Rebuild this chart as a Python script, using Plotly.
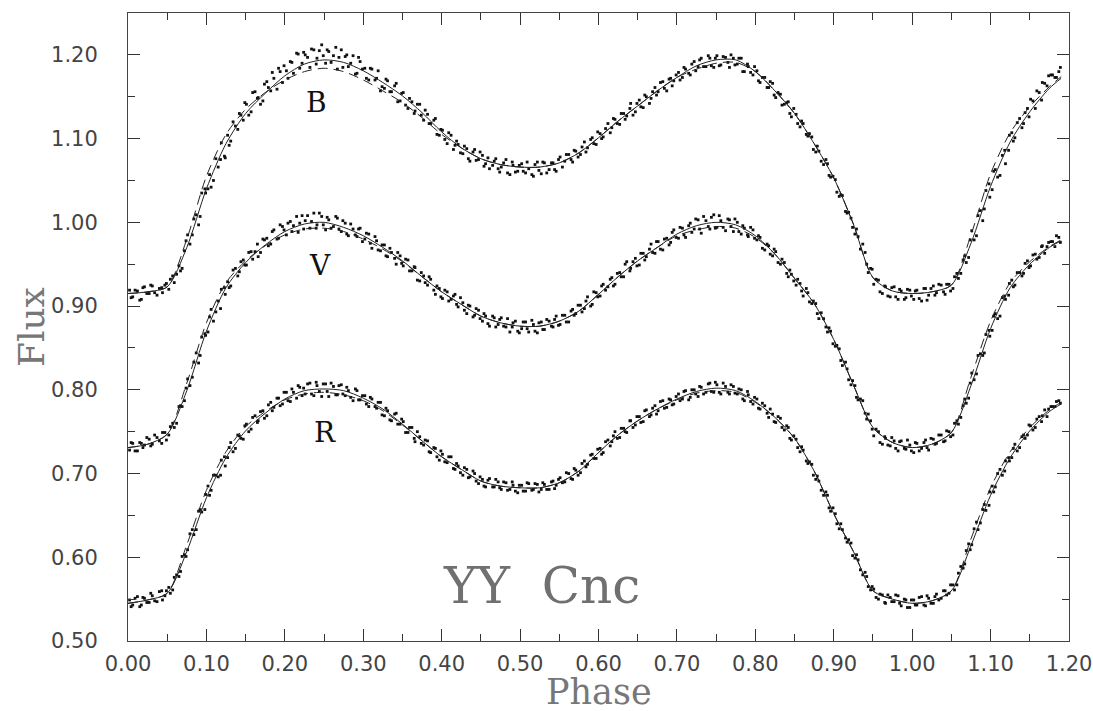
import plotly.graph_objects as go

# ---------------- data ----------------
CURVE_PHASE = [0.000, 0.025, 0.050, 0.075, 0.100, 0.125, 0.150, 0.175, 0.200, 0.225,
               0.250, 0.275, 0.300, 0.325, 0.350, 0.375, 0.400, 0.425, 0.450, 0.475,
               0.500, 0.525, 0.550, 0.575, 0.600, 0.625, 0.650, 0.675, 0.700, 0.725,
               0.750, 0.775, 0.800, 0.825, 0.850, 0.875, 0.900, 0.925, 0.950, 0.975,
               1.000, 1.025, 1.050, 1.075, 1.100, 1.125, 1.150, 1.175, 1.190]

B_FIT = [0.915, 0.917, 0.923, 0.970, 1.040, 1.094, 1.130, 1.154, 1.175, 1.189,
         1.194, 1.191, 1.181, 1.167, 1.151, 1.131, 1.108, 1.089, 1.076, 1.069,
         1.066, 1.066, 1.071, 1.083, 1.101, 1.121, 1.139, 1.157, 1.173, 1.187,
         1.194, 1.194, 1.180, 1.157, 1.130, 1.094, 1.053, 0.998, 0.934, 0.918,
         0.915, 0.917, 0.925, 0.975, 1.043, 1.096, 1.132, 1.160, 1.172]
B_FIT2 = [0.915, 0.917, 0.923, 0.980, 1.055, 1.105, 1.135, 1.155, 1.170, 1.180,
          1.184, 1.180, 1.170, 1.157, 1.143, 1.125, 1.105, 1.089, 1.076, 1.069,
          1.066, 1.066, 1.071, 1.083, 1.101, 1.121, 1.139, 1.157, 1.173, 1.183,
          1.190, 1.191, 1.180, 1.157, 1.130, 1.094, 1.053, 0.998, 0.934, 0.918,
          0.915, 0.917, 0.925, 0.985, 1.058, 1.107, 1.138, 1.162, 1.174]
V_FIT = [0.731, 0.735, 0.747, 0.799, 0.870, 0.922, 0.952, 0.973, 0.989, 0.998,
         1.000, 0.994, 0.984, 0.970, 0.954, 0.935, 0.917, 0.902, 0.888, 0.880,
         0.876, 0.876, 0.882, 0.894, 0.914, 0.935, 0.954, 0.970, 0.986, 0.996,
         1.000, 0.997, 0.984, 0.962, 0.933, 0.903, 0.860, 0.806, 0.755, 0.737,
         0.731, 0.735, 0.749, 0.805, 0.873, 0.922, 0.950, 0.970, 0.978]
V_FIT2 = [0.731, 0.735, 0.747, 0.808, 0.880, 0.928, 0.954, 0.972, 0.985, 0.992,
          0.993, 0.989, 0.980, 0.968, 0.953, 0.935, 0.917, 0.902, 0.888, 0.880,
          0.876, 0.876, 0.882, 0.894, 0.914, 0.935, 0.954, 0.970, 0.984, 0.991,
          0.995, 0.993, 0.982, 0.962, 0.933, 0.903, 0.860, 0.806, 0.755, 0.737,
          0.731, 0.735, 0.749, 0.815, 0.882, 0.928, 0.953, 0.971, 0.979]
R_FIT = [0.545, 0.549, 0.557, 0.607, 0.671, 0.719, 0.751, 0.772, 0.789, 0.799,
         0.801, 0.799, 0.790, 0.777, 0.759, 0.739, 0.720, 0.705, 0.691, 0.685,
         0.683, 0.683, 0.689, 0.703, 0.725, 0.746, 0.763, 0.777, 0.789, 0.798,
         0.802, 0.799, 0.786, 0.767, 0.742, 0.703, 0.652, 0.607, 0.560, 0.550,
         0.545, 0.548, 0.560, 0.614, 0.674, 0.719, 0.751, 0.774, 0.783]
R_FIT2 = [0.545, 0.549, 0.557, 0.615, 0.680, 0.726, 0.756, 0.774, 0.788, 0.795,
          0.797, 0.794, 0.787, 0.775, 0.758, 0.739, 0.720, 0.705, 0.691, 0.685,
          0.683, 0.683, 0.689, 0.703, 0.725, 0.746, 0.763, 0.777, 0.788, 0.796,
          0.799, 0.797, 0.785, 0.767, 0.742, 0.703, 0.652, 0.607, 0.560, 0.550,
          0.545, 0.548, 0.560, 0.622, 0.683, 0.726, 0.755, 0.776, 0.785]

# observation set 1
OBS_PHASE = [
    0.002, 0.006, 0.012, 0.017, 0.021, 0.027, 0.031, 0.037, 0.043, 0.047,
    0.052, 0.057, 0.062, 0.067, 0.072, 0.076, 0.082, 0.087, 0.092, 0.098,
    0.102, 0.106, 0.112, 0.118, 0.123, 0.127, 0.131, 0.137, 0.142, 0.147,
    0.151, 0.157, 0.162, 0.166, 0.172, 0.177, 0.182, 0.186, 0.192, 0.197,
    0.202, 0.207, 0.211, 0.217, 0.222, 0.226, 0.232, 0.237, 0.241, 0.247,
    0.252, 0.256, 0.262, 0.267, 0.272, 0.277, 0.281, 0.287, 0.292, 0.296,
    0.302, 0.307, 0.311, 0.317, 0.322, 0.327, 0.331, 0.336, 0.342, 0.347,
    0.351, 0.357, 0.362, 0.366, 0.372, 0.377, 0.382, 0.386, 0.392, 0.397,
    0.401, 0.407, 0.412, 0.417, 0.421, 0.427, 0.432, 0.436, 0.442, 0.447,
    0.452, 0.456, 0.461, 0.467, 0.472, 0.476, 0.482, 0.487, 0.491, 0.497,
    0.502, 0.507, 0.511, 0.517, 0.522, 0.527, 0.531, 0.537, 0.542, 0.546,
    0.551, 0.557, 0.562, 0.567, 0.571, 0.577, 0.582, 0.586, 0.592, 0.597,
    0.602, 0.606, 0.612, 0.617, 0.621, 0.627, 0.632, 0.636, 0.641, 0.647,
    0.652, 0.657, 0.661, 0.667, 0.672, 0.676, 0.682, 0.687, 0.692, 0.696,
    0.702, 0.707, 0.711, 0.717, 0.722, 0.727, 0.731, 0.737, 0.742, 0.747,
    0.751, 0.756, 0.762, 0.767, 0.772, 0.777, 0.782, 0.786, 0.791, 0.797,
    0.802, 0.806, 0.812, 0.817, 0.822, 0.826, 0.832, 0.837, 0.842, 0.846,
    0.852, 0.857, 0.861, 0.867, 0.872, 0.877, 0.881, 0.887, 0.892, 0.896,
    0.902, 0.907, 0.911, 0.917, 0.922, 0.927, 0.931, 0.937, 0.942, 0.947,
    0.951, 0.957, 0.962, 0.966, 0.972, 0.977, 0.982, 0.986, 0.992, 0.997,
    1.002, 1.006, 1.012, 1.017, 1.021, 1.027, 1.031, 1.037, 1.042, 1.047,
    1.052, 1.057, 1.062, 1.067, 1.072, 1.076, 1.082, 1.087, 1.092, 1.098,
    1.102, 1.106, 1.112, 1.118, 1.123, 1.127, 1.131, 1.137, 1.142, 1.147,
    1.151, 1.157, 1.162, 1.166, 1.172, 1.177, 1.182, 1.187]

B_OBS = [
    0.919, 0.911, 0.918, 0.908, 0.923, 0.915, 0.924, 0.913, 0.922, 0.925,
    0.920, 0.936, 0.938, 0.942, 0.966, 0.985, 0.985, 1.009, 1.007, 1.040,
    1.040, 1.042, 1.076, 1.075, 1.079, 1.104, 1.097, 1.115, 1.130, 1.122,
    1.141, 1.132, 1.156, 1.149, 1.145, 1.168, 1.157, 1.172, 1.184, 1.167,
    1.181, 1.192, 1.178, 1.201, 1.190, 1.200, 1.185, 1.206, 1.196, 1.212,
    1.190, 1.204, 1.199, 1.183, 1.206, 1.198, 1.186, 1.199, 1.178, 1.192,
    1.184, 1.170, 1.183, 1.172, 1.157, 1.160, 1.169, 1.156, 1.166, 1.145,
    1.155, 1.136, 1.144, 1.133, 1.141, 1.122, 1.129, 1.118, 1.124, 1.104,
    1.110, 1.094, 1.104, 1.092, 1.093, 1.082, 1.088, 1.073, 1.087, 1.075,
    1.080, 1.070, 1.064, 1.073, 1.064, 1.066, 1.075, 1.057, 1.068, 1.061,
    1.070, 1.059, 1.064, 1.055, 1.072, 1.058, 1.071, 1.063, 1.071, 1.061,
    1.078, 1.073, 1.081, 1.072, 1.085, 1.081, 1.096, 1.089, 1.101, 1.093,
    1.106, 1.102, 1.118, 1.113, 1.123, 1.117, 1.130, 1.127, 1.142, 1.132,
    1.146, 1.137, 1.150, 1.148, 1.161, 1.156, 1.168, 1.157, 1.172, 1.169,
    1.179, 1.173, 1.183, 1.176, 1.192, 1.186, 1.196, 1.186, 1.196, 1.185,
    1.199, 1.188, 1.197, 1.185, 1.196, 1.189, 1.196, 1.180, 1.186, 1.176,
    1.181, 1.167, 1.173, 1.161, 1.166, 1.149, 1.153, 1.141, 1.144, 1.126,
    1.129, 1.114, 1.118, 1.103, 1.102, 1.084, 1.085, 1.069, 1.070, 1.054,
    1.051, 1.031, 1.032, 1.011, 1.005, 0.986, 0.983, 0.974, 0.950, 0.945,
    0.926, 0.931, 0.915, 0.923, 0.911, 0.923, 0.908, 0.918, 0.910, 0.919,
    0.908, 0.919, 0.906, 0.921, 0.913, 0.924, 0.916, 0.925, 0.914, 0.926,
    0.921, 0.939, 0.939, 0.960, 0.958, 0.990, 0.984, 1.014, 1.016, 1.046,
    1.039, 1.063, 1.056, 1.086, 1.086, 1.107, 1.101, 1.124, 1.118, 1.136,
    1.147, 1.136, 1.155, 1.167, 1.163, 1.176, 1.173, 1.180]

V_OBS = [
    0.728, 0.736, 0.727, 0.736, 0.734, 0.741, 0.735, 0.743, 0.736, 0.749,
    0.746, 0.760, 0.760, 0.781, 0.787, 0.813, 0.815, 0.844, 0.841, 0.867,
    0.869, 0.896, 0.893, 0.897, 0.922, 0.929, 0.924, 0.945, 0.941, 0.955,
    0.949, 0.965, 0.965, 0.959, 0.980, 0.981, 0.974, 0.991, 0.981, 0.995,
    0.985, 1.001, 0.996, 0.988, 1.008, 1.002, 0.993, 1.011, 0.997, 1.007,
    0.991, 1.003, 0.995, 1.005, 0.989, 0.999, 0.984, 0.992, 0.983, 0.993,
    0.980, 0.986, 0.969, 0.978, 0.966, 0.973, 0.959, 0.964, 0.950, 0.960,
    0.948, 0.955, 0.942, 0.946, 0.930, 0.936, 0.925, 0.932, 0.914, 0.921,
    0.909, 0.917, 0.908, 0.914, 0.899, 0.904, 0.891, 0.900, 0.889, 0.895,
    0.882, 0.888, 0.876, 0.886, 0.878, 0.886, 0.875, 0.869, 0.880, 0.870,
    0.873, 0.881, 0.869, 0.878, 0.868, 0.881, 0.872, 0.882, 0.875, 0.888,
    0.878, 0.889, 0.881, 0.896, 0.891, 0.901, 0.897, 0.911, 0.902, 0.916,
    0.912, 0.926, 0.923, 0.934, 0.926, 0.940, 0.935, 0.953, 0.945, 0.957,
    0.949, 0.963, 0.959, 0.974, 0.963, 0.977, 0.967, 0.981, 0.976, 0.991,
    0.981, 0.993, 0.982, 0.999, 0.992, 1.003, 0.987, 1.002, 0.992, 1.009,
    0.994, 1.002, 0.990, 1.003, 0.989, 1.000, 0.986, 0.993, 0.983, 0.991,
    0.979, 0.982, 0.967, 0.972, 0.960, 0.965, 0.950, 0.952, 0.935, 0.938,
    0.925, 0.927, 0.912, 0.916, 0.903, 0.903, 0.885, 0.885, 0.869, 0.870,
    0.852, 0.849, 0.829, 0.825, 0.806, 0.805, 0.788, 0.787, 0.765, 0.763,
    0.745, 0.750, 0.735, 0.742, 0.733, 0.739, 0.727, 0.739, 0.729, 0.734,
    0.725, 0.736, 0.730, 0.740, 0.728, 0.741, 0.736, 0.746, 0.739, 0.750,
    0.746, 0.763, 0.767, 0.789, 0.790, 0.820, 0.819, 0.843, 0.844, 0.871,
    0.871, 0.891, 0.888, 0.912, 0.913, 0.931, 0.925, 0.940, 0.939, 0.954,
    0.948, 0.962, 0.958, 0.972, 0.971, 0.977, 0.971, 0.982]

R_OBS = [
    0.549, 0.543, 0.553, 0.543, 0.551, 0.546, 0.554, 0.547, 0.560, 0.554,
    0.564, 0.561, 0.579, 0.583, 0.603, 0.609, 0.633, 0.633, 0.657, 0.657,
    0.685, 0.680, 0.698, 0.698, 0.720, 0.719, 0.737, 0.730, 0.745, 0.741,
    0.759, 0.753, 0.769, 0.763, 0.775, 0.769, 0.785, 0.779, 0.790, 0.783,
    0.797, 0.786, 0.797, 0.805, 0.793, 0.795, 0.808, 0.793, 0.805, 0.792,
    0.807, 0.792, 0.804, 0.794, 0.806, 0.793, 0.799, 0.787, 0.799, 0.788,
    0.793, 0.780, 0.789, 0.778, 0.785, 0.769, 0.775, 0.763, 0.772, 0.759,
    0.762, 0.749, 0.755, 0.738, 0.744, 0.734, 0.739, 0.725, 0.730, 0.716,
    0.723, 0.713, 0.720, 0.705, 0.709, 0.698, 0.705, 0.696, 0.700, 0.688,
    0.693, 0.684, 0.694, 0.684, 0.690, 0.681, 0.689, 0.681, 0.686, 0.677,
    0.686, 0.679, 0.688, 0.681, 0.687, 0.681, 0.687, 0.681, 0.691, 0.686,
    0.695, 0.690, 0.700, 0.693, 0.704, 0.701, 0.715, 0.711, 0.723, 0.718,
    0.730, 0.725, 0.740, 0.738, 0.750, 0.743, 0.754, 0.749, 0.763, 0.758,
    0.768, 0.762, 0.776, 0.770, 0.781, 0.775, 0.787, 0.779, 0.788, 0.783,
    0.795, 0.789, 0.799, 0.791, 0.800, 0.792, 0.803, 0.797, 0.808, 0.797,
    0.806, 0.795, 0.804, 0.795, 0.804, 0.795, 0.800, 0.787, 0.794, 0.783,
    0.789, 0.777, 0.781, 0.767, 0.771, 0.761, 0.766, 0.752, 0.755, 0.740,
    0.741, 0.726, 0.728, 0.712, 0.711, 0.693, 0.691, 0.674, 0.674, 0.655,
    0.652, 0.634, 0.633, 0.618, 0.617, 0.599, 0.597, 0.579, 0.577, 0.561,
    0.562, 0.550, 0.555, 0.545, 0.552, 0.547, 0.554, 0.542, 0.549, 0.540,
    0.549, 0.543, 0.553, 0.542, 0.551, 0.545, 0.556, 0.551, 0.560, 0.557,
    0.567, 0.567, 0.589, 0.592, 0.616, 0.615, 0.642, 0.641, 0.663, 0.662,
    0.685, 0.684, 0.705, 0.703, 0.719, 0.719, 0.735, 0.731, 0.746, 0.746,
    0.757, 0.755, 0.768, 0.769, 0.768, 0.780, 0.780, 0.787]

# observation set 2
OBS_PHASE2 = [
    0.004, 0.009, 0.015, 0.019, 0.024, 0.029, 0.034, 0.040, 0.044, 0.049,
    0.054, 0.059, 0.065, 0.069, 0.074, 0.079, 0.084, 0.090, 0.094, 0.099,
    0.104, 0.109, 0.115, 0.119, 0.124, 0.129, 0.134, 0.140, 0.144, 0.149,
    0.154, 0.159, 0.165, 0.169, 0.174, 0.179, 0.184, 0.190, 0.194, 0.199,
    0.204, 0.209, 0.215, 0.219, 0.224, 0.229, 0.234, 0.240, 0.244, 0.249,
    0.254, 0.259, 0.265, 0.269, 0.274, 0.279, 0.284, 0.290, 0.294, 0.299,
    0.304, 0.309, 0.315, 0.319, 0.324, 0.329, 0.334, 0.340, 0.344, 0.349,
    0.354, 0.359, 0.365, 0.369, 0.374, 0.379, 0.384, 0.390, 0.394, 0.399,
    0.404, 0.409, 0.415, 0.419, 0.424, 0.429, 0.434, 0.440, 0.444, 0.449,
    0.454, 0.459, 0.465, 0.469, 0.474, 0.479, 0.484, 0.490, 0.494, 0.499,
    0.504, 0.509, 0.515, 0.519, 0.524, 0.529, 0.534, 0.540, 0.544, 0.549,
    0.554, 0.559, 0.565, 0.569, 0.574, 0.579, 0.584, 0.590, 0.594, 0.599,
    0.604, 0.609, 0.615, 0.619, 0.624, 0.629, 0.634, 0.640, 0.644, 0.649,
    0.654, 0.659, 0.665, 0.669, 0.674, 0.679, 0.684, 0.690, 0.694, 0.699,
    0.704, 0.709, 0.715, 0.719, 0.724, 0.729, 0.734, 0.740, 0.744, 0.749,
    0.754, 0.759, 0.765, 0.769, 0.774, 0.779, 0.784, 0.790, 0.794, 0.799,
    0.804, 0.809, 0.815, 0.819, 0.824, 0.829, 0.834, 0.840, 0.844, 0.849,
    0.854, 0.859, 0.865, 0.869, 0.874, 0.879, 0.884, 0.890, 0.894, 0.899,
    0.904, 0.909, 0.915, 0.919, 0.924, 0.929, 0.934, 0.940, 0.944, 0.949,
    0.954, 0.959, 0.965, 0.969, 0.974, 0.979, 0.984, 0.990, 0.994, 0.999,
    1.004, 1.009, 1.015, 1.019, 1.024, 1.029, 1.034, 1.040, 1.044, 1.049,
    1.054, 1.059, 1.065, 1.069, 1.074, 1.079, 1.084, 1.090, 1.094, 1.099,
    1.104, 1.109, 1.115, 1.119, 1.124, 1.129, 1.134, 1.140, 1.144, 1.149,
    1.154, 1.159, 1.165, 1.169, 1.174, 1.179, 1.184, 1.189]

B_OBS2 = [
    0.910, 0.919, 0.907, 0.922, 0.915, 0.925, 0.916, 0.921, 0.916, 0.927,
    0.932, 0.928, 0.948, 0.945, 0.978, 0.974, 1.004, 0.997, 1.035, 1.035,
    1.057, 1.050, 1.066, 1.095, 1.077, 1.092, 1.120, 1.111, 1.128, 1.143,
    1.128, 1.155, 1.148, 1.141, 1.165, 1.161, 1.179, 1.159, 1.180, 1.187,
    1.172, 1.191, 1.202, 1.184, 1.203, 1.197, 1.207, 1.189, 1.205, 1.199,
    1.206, 1.191, 1.209, 1.197, 1.185, 1.200, 1.190, 1.177, 1.197, 1.183,
    1.172, 1.184, 1.170, 1.181, 1.162, 1.171, 1.156, 1.163, 1.144, 1.154,
    1.140, 1.148, 1.130, 1.141, 1.128, 1.134, 1.118, 1.122, 1.105, 1.111,
    1.099, 1.107, 1.087, 1.097, 1.083, 1.091, 1.076, 1.084, 1.074, 1.084,
    1.067, 1.077, 1.068, 1.076, 1.060, 1.071, 1.059, 1.072, 1.060, 1.068,
    1.061, 1.072, 1.057, 1.069, 1.062, 1.072, 1.059, 1.071, 1.063, 1.075,
    1.066, 1.081, 1.075, 1.086, 1.078, 1.090, 1.084, 1.099, 1.094, 1.108,
    1.100, 1.112, 1.107, 1.124, 1.118, 1.130, 1.123, 1.136, 1.128, 1.142,
    1.138, 1.152, 1.142, 1.156, 1.152, 1.167, 1.160, 1.171, 1.163, 1.176,
    1.170, 1.185, 1.178, 1.189, 1.181, 1.194, 1.186, 1.199, 1.187, 1.196,
    1.187, 1.198, 1.191, 1.200, 1.188, 1.196, 1.180, 1.189, 1.179, 1.186,
    1.169, 1.173, 1.161, 1.168, 1.152, 1.155, 1.140, 1.143, 1.130, 1.136,
    1.118, 1.121, 1.105, 1.106, 1.087, 1.091, 1.073, 1.075, 1.056, 1.055,
    1.036, 1.033, 1.013, 1.012, 0.994, 0.992, 0.968, 0.964, 0.940, 0.944,
    0.932, 0.917, 0.924, 0.912, 0.922, 0.911, 0.920, 0.908, 0.920, 0.912,
    0.918, 0.909, 0.921, 0.907, 0.921, 0.913, 0.926, 0.917, 0.926, 0.918,
    0.935, 0.933, 0.955, 0.952, 0.979, 0.979, 1.008, 1.002, 1.038, 1.030,
    1.061, 1.054, 1.080, 1.070, 1.104, 1.097, 1.119, 1.113, 1.131, 1.126,
    1.145, 1.157, 1.146, 1.166, 1.175, 1.176, 1.173, 1.185]

V_OBS2 = [
    0.737, 0.727, 0.737, 0.731, 0.743, 0.733, 0.746, 0.739, 0.749, 0.740,
    0.756, 0.755, 0.780, 0.780, 0.802, 0.805, 0.833, 0.832, 0.863, 0.865,
    0.887, 0.882, 0.906, 0.920, 0.914, 0.922, 0.943, 0.936, 0.953, 0.949,
    0.964, 0.956, 0.974, 0.964, 0.979, 0.972, 0.989, 0.980, 0.997, 0.991,
    0.999, 0.989, 1.007, 0.999, 0.992, 1.008, 1.001, 0.993, 1.011, 0.997,
    1.006, 0.993, 1.007, 0.992, 1.002, 0.986, 0.998, 0.985, 0.992, 0.977,
    0.987, 0.975, 0.983, 0.967, 0.973, 0.960, 0.969, 0.957, 0.964, 0.951,
    0.956, 0.942, 0.947, 0.931, 0.940, 0.928, 0.935, 0.919, 0.924, 0.911,
    0.919, 0.906, 0.912, 0.902, 0.910, 0.895, 0.901, 0.887, 0.897, 0.885,
    0.891, 0.879, 0.888, 0.875, 0.884, 0.876, 0.885, 0.875, 0.882, 0.868,
    0.881, 0.873, 0.883, 0.870, 0.880, 0.872, 0.884, 0.876, 0.884, 0.877,
    0.889, 0.881, 0.894, 0.889, 0.901, 0.893, 0.906, 0.900, 0.917, 0.911,
    0.924, 0.919, 0.932, 0.924, 0.939, 0.935, 0.950, 0.942, 0.953, 0.948,
    0.963, 0.955, 0.968, 0.964, 0.977, 0.968, 0.980, 0.973, 0.988, 0.982,
    0.994, 0.985, 0.996, 0.988, 1.004, 0.992, 1.007, 0.995, 1.006, 0.993,
    1.008, 0.994, 1.004, 0.995, 1.004, 0.989, 0.996, 0.985, 0.994, 0.981,
    0.984, 0.969, 0.974, 0.962, 0.968, 0.952, 0.956, 0.939, 0.943, 0.930,
    0.932, 0.918, 0.921, 0.905, 0.906, 0.891, 0.892, 0.875, 0.874, 0.855,
    0.853, 0.835, 0.833, 0.812, 0.811, 0.791, 0.789, 0.772, 0.771, 0.753,
    0.753, 0.737, 0.744, 0.734, 0.743, 0.730, 0.738, 0.730, 0.740, 0.727,
    0.737, 0.727, 0.737, 0.731, 0.742, 0.735, 0.746, 0.738, 0.751, 0.744,
    0.760, 0.759, 0.781, 0.784, 0.808, 0.812, 0.841, 0.841, 0.866, 0.864,
    0.888, 0.885, 0.910, 0.908, 0.927, 0.923, 0.940, 0.936, 0.951, 0.946,
    0.961, 0.956, 0.971, 0.963, 0.976, 0.977, 0.984, 0.976]

R_OBS2 = [
    0.541, 0.551, 0.541, 0.552, 0.546, 0.557, 0.548, 0.559, 0.549, 0.560,
    0.557, 0.576, 0.577, 0.601, 0.601, 0.628, 0.627, 0.655, 0.654, 0.675,
    0.674, 0.698, 0.696, 0.716, 0.709, 0.731, 0.726, 0.746, 0.742, 0.757,
    0.750, 0.767, 0.761, 0.774, 0.766, 0.782, 0.775, 0.790, 0.781, 0.797,
    0.787, 0.801, 0.790, 0.803, 0.802, 0.807, 0.795, 0.809, 0.798, 0.807,
    0.798, 0.808, 0.794, 0.805, 0.795, 0.803, 0.791, 0.801, 0.788, 0.793,
    0.783, 0.791, 0.780, 0.785, 0.770, 0.778, 0.764, 0.771, 0.759, 0.765,
    0.749, 0.755, 0.742, 0.750, 0.736, 0.740, 0.726, 0.731, 0.720, 0.727,
    0.714, 0.720, 0.706, 0.712, 0.701, 0.707, 0.695, 0.703, 0.691, 0.696,
    0.685, 0.692, 0.684, 0.693, 0.683, 0.690, 0.680, 0.690, 0.679, 0.686,
    0.679, 0.689, 0.680, 0.688, 0.678, 0.689, 0.681, 0.690, 0.682, 0.693,
    0.689, 0.701, 0.694, 0.706, 0.698, 0.712, 0.708, 0.722, 0.718, 0.729,
    0.723, 0.738, 0.733, 0.745, 0.742, 0.754, 0.750, 0.763, 0.755, 0.768,
    0.761, 0.775, 0.768, 0.778, 0.771, 0.786, 0.778, 0.789, 0.782, 0.792,
    0.787, 0.798, 0.788, 0.800, 0.795, 0.804, 0.795, 0.807, 0.798, 0.809,
    0.797, 0.808, 0.797, 0.806, 0.796, 0.801, 0.789, 0.798, 0.786, 0.791,
    0.778, 0.784, 0.772, 0.777, 0.762, 0.768, 0.755, 0.757, 0.742, 0.745,
    0.731, 0.732, 0.715, 0.714, 0.698, 0.697, 0.680, 0.678, 0.659, 0.659,
    0.640, 0.640, 0.623, 0.621, 0.602, 0.603, 0.585, 0.582, 0.565, 0.565,
    0.552, 0.556, 0.546, 0.555, 0.547, 0.555, 0.545, 0.550, 0.540, 0.549,
    0.543, 0.552, 0.543, 0.554, 0.545, 0.553, 0.549, 0.560, 0.555, 0.567,
    0.561, 0.581, 0.587, 0.608, 0.609, 0.634, 0.633, 0.657, 0.656, 0.678,
    0.678, 0.700, 0.698, 0.715, 0.715, 0.730, 0.727, 0.744, 0.742, 0.758,
    0.752, 0.765, 0.762, 0.776, 0.777, 0.780, 0.786, 0.784]

BAND_LABELS = ["B", "V", "R"]
BAND_LABEL_PHASE = [0.241, 0.245, 0.251]
BAND_LABEL_FLUX = [1.143, 0.949, 0.749]

X_TICKS = [0.00, 0.10, 0.20, 0.30, 0.40, 0.50, 0.60, 0.70, 0.80, 0.90, 1.00, 1.10, 1.20]
Y_TICKS = [0.50, 0.60, 0.70, 0.80, 0.90, 1.00, 1.10, 1.20]

# ---------------- figure ----------------
fig = go.Figure()

dot_style = dict(symbol="square", size=2.8, color="#111111", line=dict(width=0))
for phases, obs in ((OBS_PHASE, B_OBS), (OBS_PHASE, V_OBS), (OBS_PHASE, R_OBS),
                    (OBS_PHASE2, B_OBS2), (OBS_PHASE2, V_OBS2), (OBS_PHASE2, R_OBS2)):
    fig.add_trace(go.Scatter(x=phases, y=obs, mode="markers", marker=dot_style,
                             showlegend=False, hoverinfo="skip"))

for fit in (B_FIT, V_FIT, R_FIT):
    fig.add_trace(go.Scatter(
        x=CURVE_PHASE, y=fit, mode="lines",
        line=dict(color="#222222", width=1, shape="spline", smoothing=0.8),
        showlegend=False, hoverinfo="skip"))

for fit in (B_FIT2, V_FIT2, R_FIT2):
    fig.add_trace(go.Scatter(
        x=CURVE_PHASE, y=fit, mode="lines",
        line=dict(color="#222222", width=1, shape="spline", smoothing=0.8,
                  dash="10px,6px"),
        showlegend=False, hoverinfo="skip"))

for lab, px, py in zip(BAND_LABELS, BAND_LABEL_PHASE, BAND_LABEL_FLUX):
    fig.add_annotation(x=px, y=py, xref="x", yref="y", text=lab, showarrow=False,
                       font=dict(family="DejaVu Serif", size=28, color="#111111"))

fig.add_annotation(x=0.527, y=0.566, xref="x", yref="y",
                   text="YY\u00a0\u00a0Cnc", showarrow=False,
                   font=dict(family="DejaVu Serif", size=50, color="#707070"))

fig.add_annotation(x=0.5, y=-0.081, xref="paper", yref="paper", text="Phase",
                   showarrow=False, yanchor="middle", borderpad=0,
                   font=dict(family="DejaVu Serif", size=35, color="#777777"))
fig.add_annotation(x=-0.103, y=0.5, xref="paper", yref="paper", text="Flux",
                   showarrow=False, textangle=-90, xanchor="center", borderpad=0,
                   font=dict(family="DejaVu Serif", size=36, color="#777777"))

axis_common = dict(
    showgrid=False, zeroline=False, showline=True, linecolor="#444444", linewidth=1,
    mirror="ticks", ticks="inside", ticklen=12, tickwidth=1, tickcolor="#333333",
    tickformat=".2f", automargin=False,
    tickfont=dict(family="DejaVu Sans", size=21, color="#444444"),
    minor=dict(ticks="inside", ticklen=7, tickwidth=1, tickcolor="#333333",
               dtick=0.05, showgrid=False),
)

fig.update_xaxes(range=[0.0, 1.2], tickvals=X_TICKS, ticklabelstandoff=4, **axis_common)
fig.update_yaxes(range=[0.5, 1.25], tickvals=Y_TICKS, ticklabelstandoff=25, **axis_common)

fig.update_layout(
    width=1093, height=711,
    margin=dict(l=128, r=24, t=13, b=70, autoexpand=False),
    paper_bgcolor="white", plot_bgcolor="white",
)

# remove the page's default body margin and scrollbars so the figure fills the window
fig.write_html(
    "out.html",
    config={"displayModeBar": False},
    post_script="document.body.style.margin='0';"
                "document.body.style.overflow='hidden';"
                "document.documentElement.style.overflow='hidden';",
)
